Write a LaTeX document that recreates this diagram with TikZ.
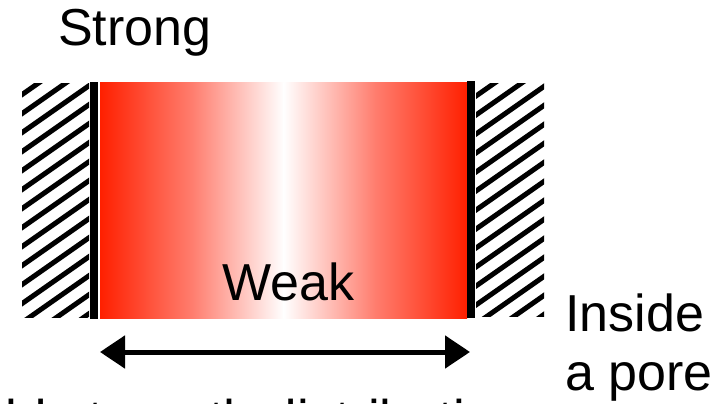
\documentclass[tikz,border=0pt]{standalone}
\usepackage{fontspec}
\setmainfont{Liberation Sans}
\usetikzlibrary{arrows.meta}
\definecolor{hotred}{RGB}{255,32,0}
\begin{document}
\begin{tikzpicture}[x=1pt,y=-1pt,
  lbl/.style={inner sep=0pt, anchor=base west, font=\fontsize{52}{60}\selectfont},
  hatchline/.style={line width=5pt, black},
  wallbar/.style={fill=black},
  widtharrow/.style={line width=5pt, {Triangle[length=25pt,width=32pt]}-{Triangle[length=25pt,width=32pt]}}
]
\useasboundingbox (0,0) rectangle (718,404);
% pore contents: gradient
\shade[left color=hotred, right color=white, middle color={rgb,255:red,255;green,125;blue,110}] (100,83) rectangle (284,318);
\shade[left color=white, right color=hotred, middle color={rgb,255:red,255;green,125;blue,110}] (283.5,83) rectangle (467,318);
% left wall hatch
\begin{scope}
  \clip (22,84) rectangle (89,317);
  \foreach \k in {0,...,20} { \draw[hatchline] (10,{84+\k*19}) -- (100,{84+\k*19-63}); }
\end{scope}
% right wall hatch
\begin{scope}
  \clip (476,84) rectangle (544,316);
  \foreach \k in {0,...,20} { \draw[hatchline] (466,{84+\k*19}) -- (556,{84+\k*19-63}); }
\end{scope}
% wall surfaces
\fill[wallbar] (90,82) rectangle (98,319);
\fill[wallbar] (467,81) rectangle (475,318);
% labels
\node[lbl] (strong) at (58,46) {Strong};
\node[lbl] (weak) at (222,300) {Weak};
\node[lbl] (inside) at (565,331) {Inside};
\node[lbl] (apore) at (565,390) {a pore};
\node[lbl, font=\fontsize{53}{60}\selectfont] (fsd) at (-68,437) {Field strength distribution};
% width arrow
\coordinate (aL) at (100,352);
\coordinate (aR) at (470,352);
\draw[widtharrow] (aL) -- (aR);
\end{tikzpicture}
\end{document}
